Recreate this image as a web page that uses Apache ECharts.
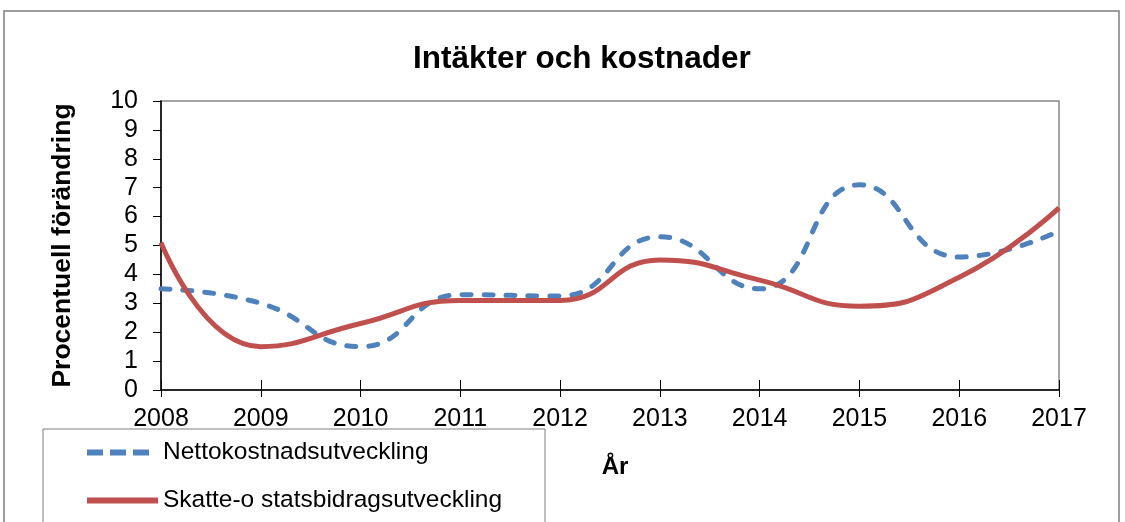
<!DOCTYPE html>
<html>
<head>
<meta charset="utf-8">
<script src="https://cdn.jsdelivr.net/npm/echarts@6/dist/echarts.min.js"></script>
<style>
  html, body { margin: 0; padding: 0; background: #fff; }
  #chart { width: 1125px; height: 522px; }
</style>
</head>
<body>
<div id="chart"></div>
<script>
// --- data ---
const years = ['2008', '2009', '2010', '2011', '2012', '2013', '2014', '2015', '2016', '2017'];
const nettokostnad = [3.5, 3.0, 1.5, 3.3, 3.25, 5.3, 3.5, 7.1, 4.6, 5.5];
const skatteStatsbidrag = [5.1, 1.5, 2.3, 3.1, 3.1, 4.5, 3.8, 2.9, 3.9, 6.3];

const FONT = '"Liberation Sans", Arial, sans-serif';
const BLUE = '#4F81BD';
const RED = '#C0504D';

// legend icons: three dashes / one solid bar
const DASH_ICON = 'path://M0,0h16v6h-16z M23,0h16v6h-16z M46,0h16v6h-16z';
const LINE_ICON = 'path://M0,0h71v6h-71z';

const chart = echarts.init(document.getElementById('chart'));

function legendBox(name, icon, top, width) {
    return {
        orient: 'vertical',
        left: 87,
        top: top,
        padding: 0,
        itemWidth: width,
        itemHeight: 6,
        icon: icon,
        z: 20,
        textStyle: {
            fontSize: 24.5, color: '#000', fontFamily: FONT,
            padding: [0, 0, 0, 71 - width]
        },
        data: [name]
    };
}

const option = {
    animation: false,
    textStyle: { fontFamily: FONT },
    title: {
        text: 'Intäkter och kostnader',
        left: 408,
        top: 38,
        textStyle: { fontSize: 31.5, fontWeight: 'bold', color: '#000', fontFamily: FONT }
    },
    grid: {
        left: 161,
        right: 66,
        top: 101,
        bottom: 132,
        show: true,
        borderColor: '#868686',
        borderWidth: 1.5
    },
    // ytterram och legendruta
    graphic: [
        {
            type: 'rect',
            shape: { x: 4, y: 11, width: 1115, height: 540 },
            style: { fill: null, stroke: '#7f7f7f', lineWidth: 1.5 },
            silent: true
        },
        {
            type: 'rect',
            shape: { x: 43, y: 429, width: 502, height: 120 },
            style: { fill: '#fff', stroke: '#7f7f7f', lineWidth: 1 },
            z: 10,
            silent: true
        }
    ],
    legend: [
        legendBox('Nettokostnadsutveckling', DASH_ICON, 440, 62),
        legendBox('Skatte-o statsbidragsutveckling', LINE_ICON, 488, 71)
    ],
    xAxis: [
        {
            type: 'category',
            data: years,
            boundaryGap: false,
            name: 'År',
            nameLocation: 'middle',
            nameGap: 65,
            nameTextStyle: { fontSize: 24, fontWeight: 'bold', color: '#000', padding: [0, 0, 0, 10] },
            axisLine: { lineStyle: { color: '#000', width: 1.5 } },
            axisTick: { show: true, length: 7, lineStyle: { color: '#000' } },
            axisLabel: { fontSize: 25, color: '#000', margin: 17 },
            splitLine: { show: false }
        },
        {
            type: 'category',
            data: years,
            boundaryGap: false,
            position: 'bottom',
            offset: 0,
            axisLine: { show: false },
            axisTick: { show: true, inside: true, length: 10, lineStyle: { color: '#000' } },
            axisLabel: { show: false },
            splitLine: { show: false }
        }
    ],
    yAxis: {
        type: 'value',
        min: 0,
        max: 10,
        interval: 1,
        name: 'Procentuell förändring',
        nameLocation: 'middle',
        nameGap: 85,
        nameTextStyle: { fontSize: 26.5, fontWeight: 'bold', color: '#000' },
        axisLine: { show: true, lineStyle: { color: '#000', width: 1.5 } },
        axisTick: { show: true, length: 8, lineStyle: { color: '#000' } },
        axisLabel: { fontSize: 25, color: '#000', margin: 23 },
        splitLine: { show: false }
    },
    series: [
        {
            name: 'Nettokostnadsutveckling',
            type: 'line',
            data: nettokostnad,
            smooth: 0.5,
            symbol: 'none',
            lineStyle: { color: BLUE, width: 5, type: [9, 13], cap: 'round' },
            itemStyle: { color: BLUE }
        },
        {
            name: 'Skatte-o statsbidragsutveckling',
            type: 'line',
            data: skatteStatsbidrag,
            smooth: 0.5,
            symbol: 'none',
            lineStyle: { color: RED, width: 5 },
            itemStyle: { color: RED }
        }
    ]
};

chart.setOption(option);
</script>
</body>
</html>
